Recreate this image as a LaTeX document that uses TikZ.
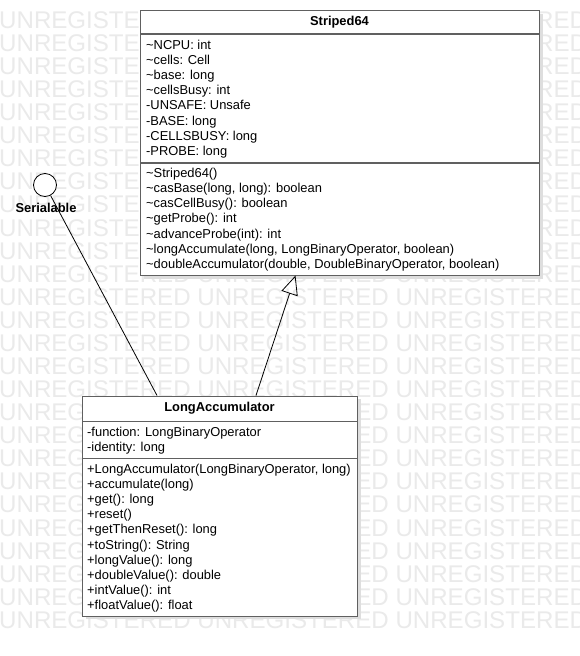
\documentclass[tikz,border=0pt]{standalone}
\usepackage{fontspec}
\setmainfont{Liberation Sans}
\usetikzlibrary{arrows.meta,shadows}
\newcommand\tild{\textasciitilde}
\definecolor{boxline}{RGB}{96,96,96}
\definecolor{wmark}{RGB}{234,234,234}
\definecolor{shadowc}{RGB}{222,222,222}
\tikzset{
  wm/.style={anchor=west, inner sep=0pt, text=wmark, font=\fontsize{24.1}{25}\selectfont},
  classbox/.style={draw=boxline, line width=1.3pt, fill=white, anchor=north west, inner sep=0pt,
    drop shadow={shadow xshift=3pt, shadow yshift=-3pt, fill=shadowc, opacity=1}},
  sep/.style={draw=boxline, line width=1.3pt},
  member/.style={anchor=base west, inner sep=0pt, font=\fontsize{12.9}{14}\selectfont},
  ctitle/.style={anchor=center, inner sep=0pt, font=\fontsize{12.9}{14}\selectfont\bfseries},
  lollipop/.style={draw=black, line width=0.8pt, fill=white, circle, minimum size=23pt, inner sep=0pt},
  assoc/.style={draw=black, line width=0.8pt},
  inherit/.style={draw=black, line width=0.8pt, -{Triangle[open, length=19pt, width=17pt]}}
}
\begin{document}
\begin{tikzpicture}[x=1pt, y=-1pt]
\useasboundingbox (0,0) rectangle (579,656);
\fill[white] (0,0) rectangle (579,656);
% watermark
\foreach \k in {0,...,26}{
  \node[wm] (wm\k) at (-1,{20+23.08*\k}) {UNREGISTERED UNREGISTERED UNREGISTERED};
}
% Striped64
\node[classbox, minimum width=399pt, minimum height=265pt] (s64) at (140,10) {};
\draw[sep] (s64.west |- 0,34) -- (s64.east |- 0,34);
\draw[sep] (s64.west |- 0,163) -- (s64.east |- 0,163);
\node[ctitle] (s64t) at (339.5,22.5) {Striped64};
\foreach \t [count=\i from 0] in {{\tild NCPU: int},{\tild cells: Cell},{\tild base: long},{\tild cellsBusy: int},{-UNSAFE: Unsafe},{-BASE: long},{-CELLSBUSY: long},{-PROBE: long}}{
  \node[member] (s64a\i) at (146,{49.5+15.1*\i}) {\t};
}
\foreach \t [count=\i from 0] in {{\tild Striped64()},{\tild casBase(long, long): boolean},{\tild casCellBusy(): boolean},{\tild getProbe(): int},{\tild advanceProbe(int): int},{\tild longAccumulate(long, LongBinaryOperator, boolean)},{\tild doubleAccumulator(double, DoubleBinaryOperator, boolean)}}{
  \node[member] (s64m\i) at (146,{177.5+15.15*\i}) {\t};
}
% LongAccumulator
\node[classbox, minimum width=275pt, minimum height=220pt] (la) at (82,395.5) {};
\draw[sep] (la.west |- 0,421.5) -- (la.east |- 0,421.5);
\draw[sep] (la.west |- 0,458.5) -- (la.east |- 0,458.5);
\node[ctitle] (lat) at (219.5,408.5) {LongAccumulator};
\foreach \t [count=\i from 0] in {{-function: LongBinaryOperator},{-identity: long}}{
  \node[member] (laa\i) at (87,{436.5+15.1*\i}) {\t};
}
\foreach \t [count=\i from 0] in {{+LongAccumulator(LongBinaryOperator, long)},{+accumulate(long)},{+get(): long},{+reset()},{+getThenReset(): long},{+toString(): String},{+longValue(): long},{+doubleValue(): double},{+intValue(): int},{+floatValue(): float}}{
  \node[member] (lam\i) at (87,{473.5+15.1*\i}) {\t};
}
% Serialable interface
\node[lollipop] (ser) at (45,185) {};
\node[ctitle] (sert) at (46,208) {Serialable};
\coordinate (serj) at (157,395.5);
\draw[assoc] (ser) -- (serj);
% inheritance
\coordinate (inhs) at (256,395.5);
\coordinate (inht) at (295.5,275.5);
\draw[inherit] (inhs) -- (inht);
\end{tikzpicture}
\end{document}
